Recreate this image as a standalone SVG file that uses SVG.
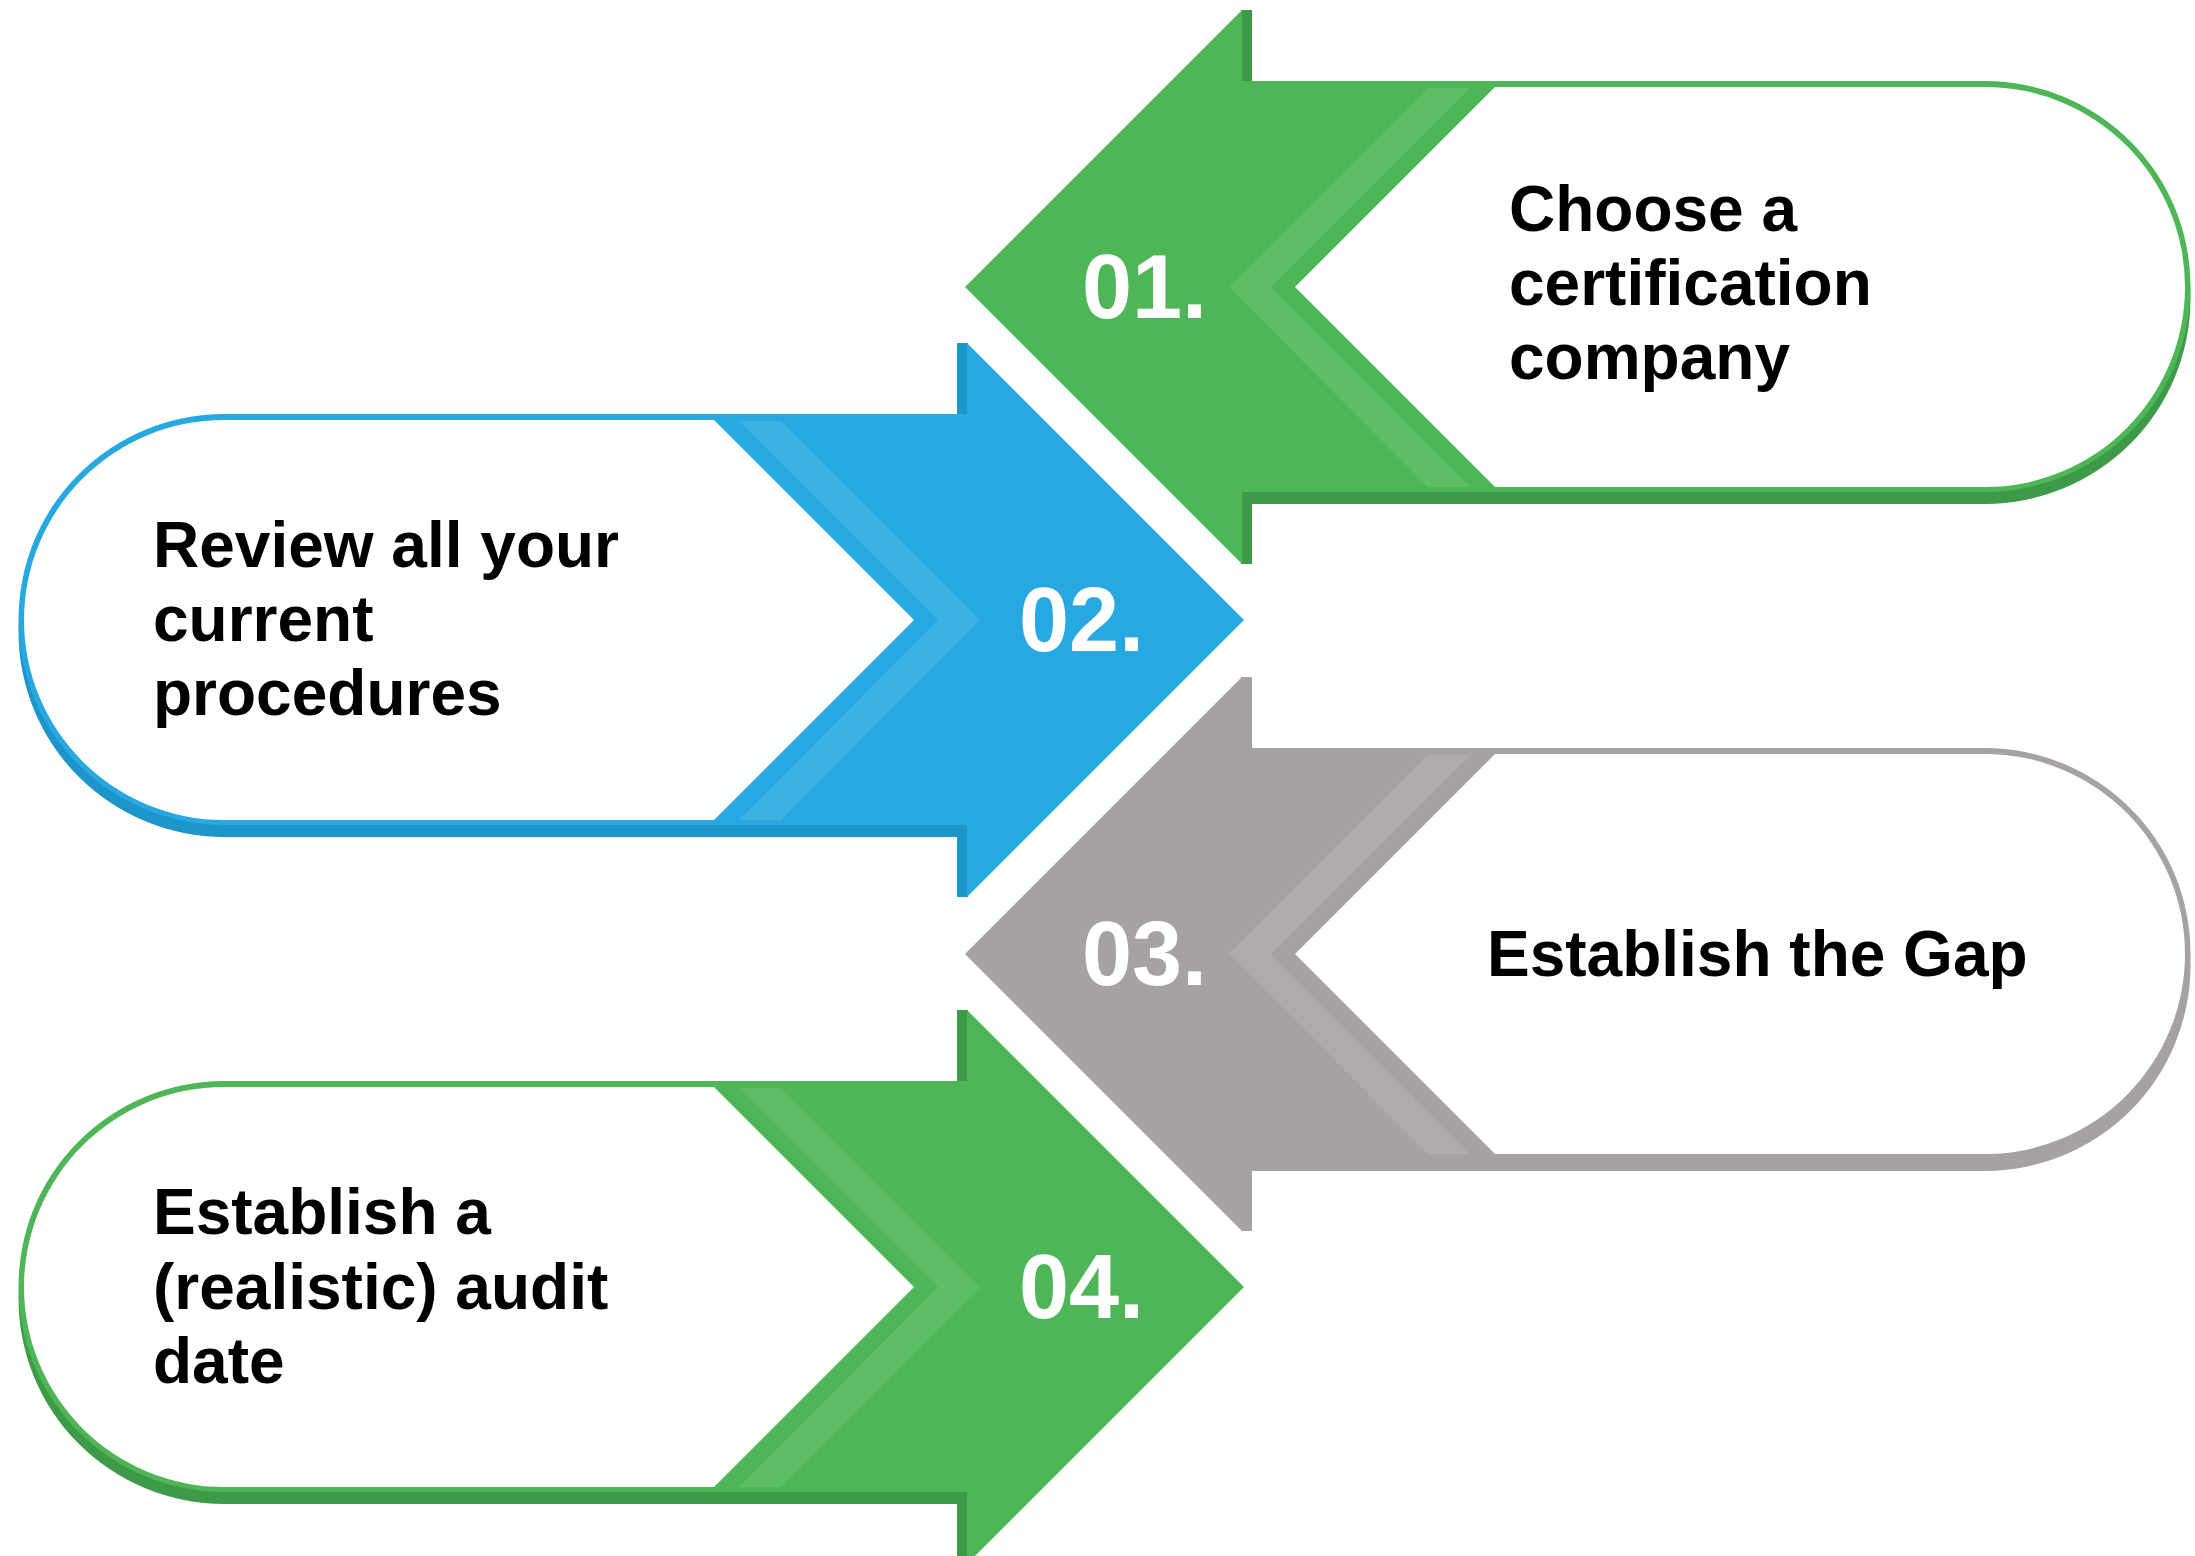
<svg xmlns="http://www.w3.org/2000/svg" width="2195" height="1556" viewBox="0 0 2195 1556">
<style>
.lbl{font-family:"Liberation Sans",Arial,sans-serif;font-weight:bold;font-size:64px;fill:#000}
.num{font-family:"Liberation Sans",Arial,sans-serif;font-weight:bold;font-size:90px;fill:#fff}
.white{fill:#fff}
.main{fill:var(--m)}.dark{fill:var(--d)}.light{fill:var(--l)}
.g{--m:#4fb657;--d:#3d9a49;--l:#5ebe66}
.b{--m:#28a8e0;--d:#1d95ca;--l:#3db1e4}
.k{--m:#a5a1a4;--d:#a5a1a4;--l:#aeaaad}
</style>
<defs>
<g id="arrowL">
<rect class="dark" x="1241" y="10" width="11" height="554"/>
<path class="dark" d="M1241,93 H1985 A205.5,205.5 0 0 1 1985,504 H1241 Z"/>
<path class="main" d="M965,287 L1242,10 V564 Z"/>
<path class="main" d="M1241,81 H1985 A205.5,205.5 0 0 1 1985,492 H1241 Z"/>
<path class="light" d="M1428,88 H1470 L1271,287 L1470,487 H1428 L1229,287 Z"/>
<path class="white" d="M1495,87 H1985 A200,200 0 0 1 1985,487 H1495 L1295,287 Z"/>
</g>
</defs>
<g id="connectors"></g>
<g id="step01" class="g">
<use href="#arrowL"/>
<text class="num" x="1082" y="318">01.</text>
<text class="lbl" x="1509" y="231">Choose a</text>
<text class="lbl" x="1509" y="305">certification</text>
<text class="lbl" x="1509" y="379">company</text>
</g>
<g id="step02" class="b">
<use href="#arrowL" transform="translate(2209,333) scale(-1,1)"/>
<text class="num" x="1019" y="651">02.</text>
<text class="lbl" x="153" y="567">Review all your</text>
<text class="lbl" x="153" y="641">current</text>
<text class="lbl" x="153" y="715">procedures</text>
</g>
<g id="step03" class="k">
<use href="#arrowL" transform="translate(0,667)"/>
<text class="num" x="1082" y="985">03.</text>
<text class="lbl" x="1487" y="976">Establish the Gap</text>
</g>
<g id="step04" class="g">
<use href="#arrowL" transform="translate(2209,1000) scale(-1,1)"/>
<text class="num" x="1019" y="1318">04.</text>
<text class="lbl" x="153" y="1234">Establish a</text>
<text class="lbl" x="153" y="1309">(realistic) audit</text>
<text class="lbl" x="153" y="1383">date</text>
</g>
</svg>
